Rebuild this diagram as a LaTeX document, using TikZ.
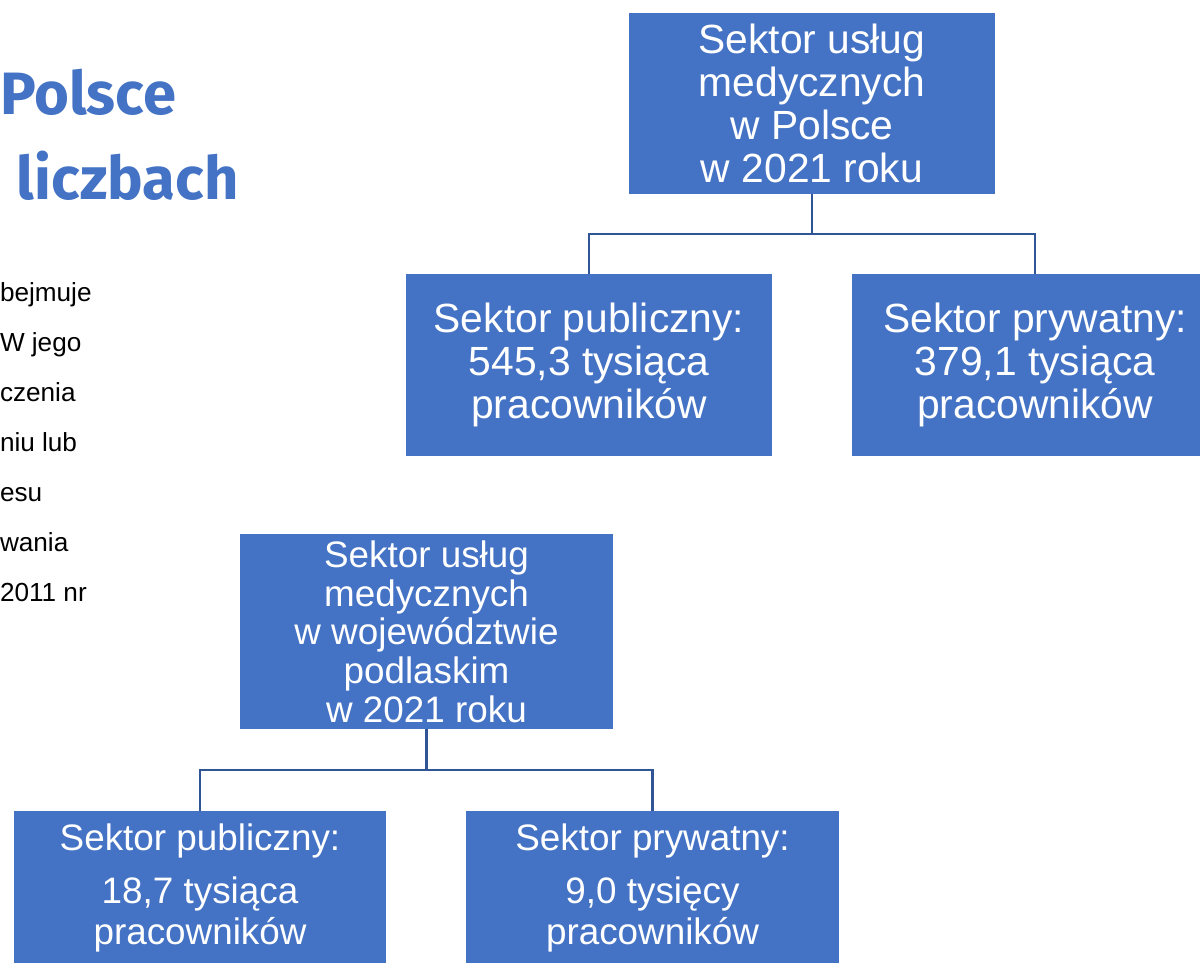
\documentclass[tikz,border=0pt]{standalone}
\usepackage{fontspec}
\setmainfont{Liberation Sans}
\newfontfamily\titlefont{Fira Sans}
\usepackage{xcolor}
\usepackage{tikz}
\usetikzlibrary{positioning}

\definecolor{boxblue}{HTML}{4472C4}
\definecolor{lineblue}{HTML}{2F5597}

\begin{document}
\begin{tikzpicture}[
    x=0.025cm, y=-0.025cm,
    every node/.style={inner sep=0pt, outer sep=0pt},
    box/.style={fill=boxblue, text=white, align=center},
    bigbox/.style={box, minimum width=9.15cm, font=\fontsize{29}{30.6}\selectfont},
    midbox/.style={box, minimum width=9.3cm, font=\fontsize{26.2}{27.5}\selectfont},
    lowbox/.style={box, minimum width=9.3cm, minimum height=3.85cm, font=\fontsize{26.2}{29.5}\selectfont},
    link/.style={draw=lineblue, line width=1.5pt},
    heading/.style={anchor=base west, text=boxblue, font=\titlefont\bfseries\fontsize{42.5}{50}\selectfont},
    intro/.style={anchor=base west, font=\fontsize{18.6}{20}\selectfont},
]
\useasboundingbox (0,0) rectangle (1200,962);
\clip (0,0) rectangle (1200,962);

% === LEFT: cut-off heading and text ===
\node[heading] (h1) at (0,114) {Polsce};
\node[heading] (h2) at (17,199) {liczbach};

\node[intro] (l1) at (0,301) {bejmuje};
\node[intro] (l2) at (0,351) {W jego};
\node[intro] (l3) at (0,401) {czenia};
\node[intro] (l4) at (0,451) {niu lub};
\node[intro] (l5) at (0,501) {esu};
\node[intro] (l6) at (0,551) {wania};
\node[intro] (l7) at (0,601) {2011 nr};

% === TOP: Poland ===
\node[bigbox, minimum height=4.525cm] (ptop) at (812,103.5) {Sektor usług\\medycznych\\w Polsce\\w 2021 roku};
\node[bigbox, minimum height=4.55cm] (ppub) at (589,365) {Sektor publiczny:\\545,3 tysiąca\\pracowników};
\node[bigbox, minimum height=4.55cm] (ppriv) at (1035,365) {Sektor prywatny:\\379,1 tysiąca\\pracowników};

\draw[link] (ptop.south) -- ++(0,40) -| (ppub.north);
\draw[link] (ptop.south) -- ++(0,40) -| (ppriv.north);

% === BOTTOM: podlaskie ===
\node[midbox, minimum height=4.875cm] (wtop) at (426.5,631.5) {Sektor usług\\medycznych\\w województwie\\podlaskim\\w 2021 roku};
\node[lowbox] (wpub) at (200,888) {Sektor publiczny:\\[8pt]18,7 tysiąca\\pracowników};
\node[lowbox] (wpriv) at (652.5,888) {Sektor prywatny:\\[8pt]9,0 tysięcy\\pracowników};

\draw[link] (wtop.south) -- ++(0,41) -| (wpub.north);
\draw[link] (wtop.south) -- ++(0,41) -| (wpriv.north);

\end{tikzpicture}
\end{document}
